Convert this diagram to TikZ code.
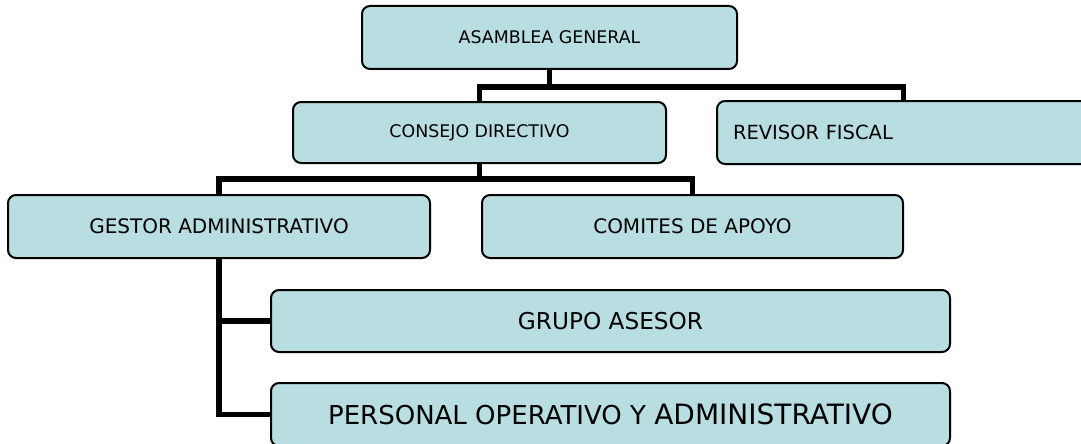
\documentclass[tikz,border=0pt]{standalone}
\usepackage{fontspec}
\setmainfont{DejaVu Sans}
\usetikzlibrary{positioning}
\definecolor{boxfill}{RGB}{184,222,225}

\begin{document}
\begin{tikzpicture}
      [x=1pt, y=-1pt,
        orgbox/.style={
          rectangle, rounded corners=8pt,
          draw=black, line width=2pt,
          fill=boxfill,
          inner sep=0pt,
          text centered},
        link/.style={draw, line width=5.5pt},
        font=\fontsize{17.4}{20}\selectfont]
      \clip (0,0) rectangle (1081,444);
      \node[orgbox, minimum width=375pt, minimum height=63pt] (asamblea) at (549.5,37.5) {ASAMBLEA GENERAL};
      \node[orgbox, minimum width=373pt, minimum height=61pt] (consejo) at (479.5,132.5) {CONSEJO DIRECTIVO};
      \node[orgbox, minimum width=373pt, minimum height=63pt, text width=341pt, align=left,
        font=\fontsize{19.5}{22}\selectfont] (revisor) at (903.5,132.5) {REVISOR FISCAL};
      \node[orgbox, minimum width=422pt, minimum height=63pt,
        font=\fontsize{20}{23}\selectfont] (gestor) at (219,226.5) {GESTOR ADMINISTRATIVO};
      \node[orgbox, minimum width=421pt, minimum height=63pt,
        font=\fontsize{20}{23}\selectfont] (comites) at (692.5,226.5) {COMITES DE APOYO};
      \node[orgbox, minimum width=679pt, minimum height=62pt,
        font=\fontsize{23.2}{26}\selectfont] (grupo) at (610.5,321) {GRUPO ASESOR};
      \node[orgbox, minimum width=679pt, minimum height=63pt,
        font=\fontsize{26}{29}\selectfont] (personal) at (610.5,414.5)
        {PERSONAL OPERATIVO Y {\fontsize{28}{31}\selectfont ADMINISTRATIVO}};

      \draw[link] (asamblea.south) -- ++(0,19);
      \draw[link] (consejo.north) -- ++(0,-14) -| (revisor.north);
      \draw[link] (consejo.south) -- ++(0,17);
      \draw[link] (gestor.north) -- ++(0,-15) -| (comites.north);
      \draw[link] (gestor.south) |- (grupo.west);
      \draw[link] (gestor.south) |- (personal.west);
    \end{tikzpicture}
\end{document}
